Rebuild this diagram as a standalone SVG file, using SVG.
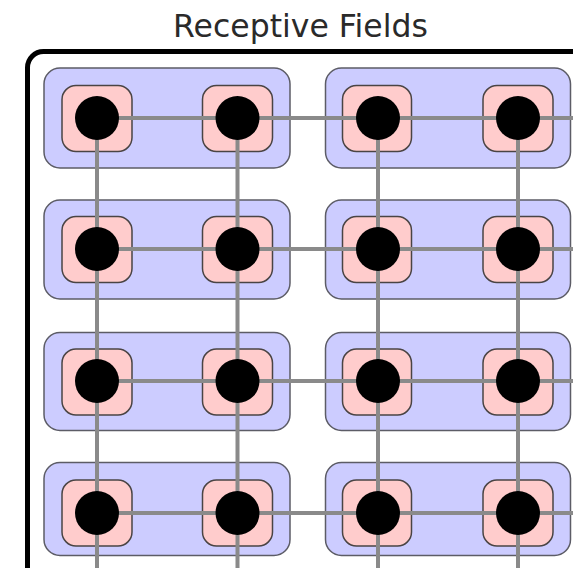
<svg xmlns="http://www.w3.org/2000/svg" width="573" height="568" viewBox="0 0 573 568">
  <style>
    .title { font-family: "DejaVu Sans", Verdana, sans-serif; font-size: 31.5px; fill: #2a2a2a; }
    .frame { fill: none; stroke: #000; stroke-width: 5; }
    .field { fill: #ccccff; stroke: #5c5c66; stroke-width: 1.5; }
    .cell { fill: #ffcccc; stroke: #4a4444; stroke-width: 1.5; }
    .unit { fill: #000; }
    .link { stroke: #8a8a8a; stroke-width: 4; fill: none; }
  </style>

  <text class="title" x="300.5" y="36.5" text-anchor="middle">Receptive Fields</text>

  <!-- outer frame, running off the right and bottom edges -->
  <rect class="frame" x="27.5" y="51.5" width="600" height="560" rx="16"/>

  <!-- receptive fields (blue) -->
  <g id="field-r1-c1"><rect class="field" x="44" y="68" width="246" height="100" rx="16"/></g>
  <g id="field-r1-c2"><rect class="field" x="325.5" y="68" width="245" height="100" rx="16"/></g>
  <g id="field-r2-c1"><rect class="field" x="44" y="200" width="246" height="99" rx="16"/></g>
  <g id="field-r2-c2"><rect class="field" x="325.5" y="200" width="245" height="99" rx="16"/></g>
  <g id="field-r3-c1"><rect class="field" x="44" y="332.5" width="246" height="98" rx="16"/></g>
  <g id="field-r3-c2"><rect class="field" x="325.5" y="332.5" width="245" height="98" rx="16"/></g>
  <g id="field-r4-c1"><rect class="field" x="44" y="462.5" width="246" height="93" rx="16"/></g>
  <g id="field-r4-c2"><rect class="field" x="325.5" y="462.5" width="245" height="93" rx="16"/></g>

  <!-- cells (pink) -->
  <g id="cell-1-1"><rect class="cell" x="62" y="85.5" width="70" height="66" rx="14"/></g>
  <g id="cell-1-2"><rect class="cell" x="202.5" y="85.5" width="70" height="66" rx="14"/></g>
  <g id="cell-1-3"><rect class="cell" x="342.5" y="85.5" width="69" height="66" rx="14"/></g>
  <g id="cell-1-4"><rect class="cell" x="483" y="85.5" width="70" height="66" rx="14"/></g>

  <g id="cell-2-1"><rect class="cell" x="62" y="216.5" width="70" height="66" rx="14"/></g>
  <g id="cell-2-2"><rect class="cell" x="202.5" y="216.5" width="70" height="66" rx="14"/></g>
  <g id="cell-2-3"><rect class="cell" x="342.5" y="216.5" width="69" height="66" rx="14"/></g>
  <g id="cell-2-4"><rect class="cell" x="483" y="216.5" width="70" height="66" rx="14"/></g>

  <g id="cell-3-1"><rect class="cell" x="62" y="349" width="70" height="66" rx="14"/></g>
  <g id="cell-3-2"><rect class="cell" x="202.5" y="349" width="70" height="66" rx="14"/></g>
  <g id="cell-3-3"><rect class="cell" x="342.5" y="349" width="69" height="66" rx="14"/></g>
  <g id="cell-3-4"><rect class="cell" x="483" y="349" width="70" height="66" rx="14"/></g>

  <g id="cell-4-1"><rect class="cell" x="62" y="480" width="70" height="66" rx="14"/></g>
  <g id="cell-4-2"><rect class="cell" x="202.5" y="480" width="70" height="66" rx="14"/></g>
  <g id="cell-4-3"><rect class="cell" x="342.5" y="480" width="69" height="66" rx="14"/></g>
  <g id="cell-4-4"><rect class="cell" x="483" y="480" width="70" height="66" rx="14"/></g>

  <!-- grid connections between units -->
  <g id="connectors">
    <line class="link" x1="97" y1="118" x2="573" y2="118"/>
    <line class="link" x1="97" y1="249" x2="573" y2="249"/>
    <line class="link" x1="97" y1="381" x2="573" y2="381"/>
    <line class="link" x1="97" y1="513" x2="573" y2="513"/>
    <line class="link" x1="97" y1="118" x2="97" y2="568"/>
    <line class="link" x1="237.5" y1="118" x2="237.5" y2="568"/>
    <line class="link" x1="378" y1="118" x2="378" y2="568"/>
    <line class="link" x1="518" y1="118" x2="518" y2="568"/>
  </g>

  <!-- units (black) -->
  <g id="unit-1-1"><circle class="unit" cx="97" cy="118" r="22"/></g>
  <g id="unit-1-2"><circle class="unit" cx="237.5" cy="118" r="22"/></g>
  <g id="unit-1-3"><circle class="unit" cx="378" cy="118" r="22"/></g>
  <g id="unit-1-4"><circle class="unit" cx="518" cy="118" r="22"/></g>

  <g id="unit-2-1"><circle class="unit" cx="97" cy="249" r="22"/></g>
  <g id="unit-2-2"><circle class="unit" cx="237.5" cy="249" r="22"/></g>
  <g id="unit-2-3"><circle class="unit" cx="378" cy="249" r="22"/></g>
  <g id="unit-2-4"><circle class="unit" cx="518" cy="249" r="22"/></g>

  <g id="unit-3-1"><circle class="unit" cx="97" cy="381" r="22"/></g>
  <g id="unit-3-2"><circle class="unit" cx="237.5" cy="381" r="22"/></g>
  <g id="unit-3-3"><circle class="unit" cx="378" cy="381" r="22"/></g>
  <g id="unit-3-4"><circle class="unit" cx="518" cy="381" r="22"/></g>

  <g id="unit-4-1"><circle class="unit" cx="97" cy="513" r="22"/></g>
  <g id="unit-4-2"><circle class="unit" cx="237.5" cy="513" r="22"/></g>
  <g id="unit-4-3"><circle class="unit" cx="378" cy="513" r="22"/></g>
  <g id="unit-4-4"><circle class="unit" cx="518" cy="513" r="22"/></g>
</svg>
